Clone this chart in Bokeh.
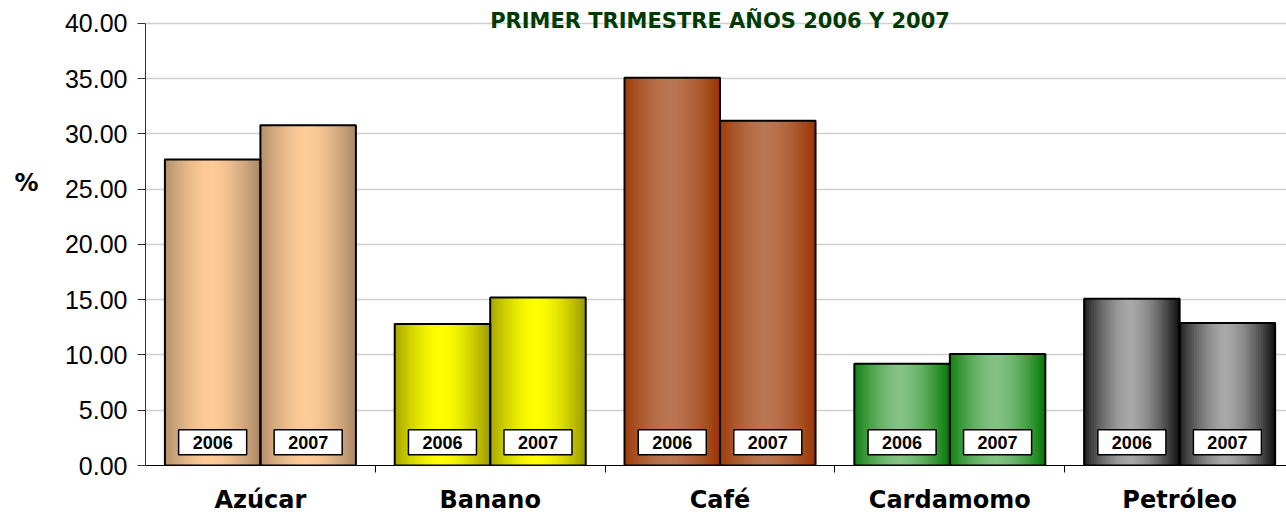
import numpy as np
from bokeh.plotting import figure
from bokeh.models import Range1d, FixedTicker, Label, PrintfTickFormatter, LinearAxis
from bokeh.core.properties import value
from bokeh.embed import file_html
from bokeh.resources import INLINE

# ---------------- data ----------------
categories = ["Azúcar", "Banano", "Café", "Cardamomo", "Petróleo"]
years = ["2006", "2007"]
values_2006 = [27.7, 12.8, 35.1, 9.2, 15.1]
values_2007 = [30.8, 15.2, 31.2, 10.1, 12.9]
y_ticks = [0, 5, 10, 15, 20, 25, 30, 35, 40]
title_text = "PRIMER TRIMESTRE AÑOS 2006 Y 2007"
y_label_text = "%"
edge_colors = [(168, 134, 100), (153, 153, 0), (153, 51, 0), (0, 120, 0), (12, 12, 12)]
center_colors = [(255, 204, 153), (255, 255, 0), (186, 118, 82), (132, 194, 132), (168, 168, 168)]

# ---------------- layout constants ----------------
BAR_W = 0.4156
N_STRIPS = 40
LABEL_Y = 2.1
Y_TOP = 42.08        # extra headroom above 40 for the title
TITLE_Y = 40.25
PCT_LIFT_LINES = 3   # empty lines below "%" lift it above the axis middle

p = figure(width=1286, height=516, output_backend="svg", toolbar_location=None,
           x_range=Range1d(0, 4.965), y_range=Range1d(0, Y_TOP),
           min_border_left=145, min_border_right=0, min_border_top=0, min_border_bottom=50)
p.outline_line_color = None
p.background_fill_color = "white"
p.border_fill_color = "white"

def profile(t):
    return float(np.clip(1 - (abs(t - 0.48) / 0.52) ** 1.6, 0, 1))

def mix(c0, c1, w):
    return "#%02x%02x%02x" % tuple(int(round(a + (b - a) * w)) for a, b in zip(c0, c1))

sl, sr, st, sc = [], [], [], []
ol, orr, ot = [], [], []
lx, lt = [], []
for i, cat in enumerate(categories):
    c = i + 0.5
    for j, (vals, yr) in enumerate(((values_2006, years[0]), (values_2007, years[1]))):
        left = c - BAR_W + j * BAR_W
        right = left + BAR_W
        top = vals[i]
        sw = BAR_W / N_STRIPS
        for k in range(N_STRIPS):
            t = (k + 0.5) / N_STRIPS
            sl.append(left + k * sw)
            sr.append(min(left + (k + 1.6) * sw, right))
            st.append(top)
            sc.append(mix(edge_colors[i], center_colors[i], profile(t)))
        ol.append(left); orr.append(right); ot.append(top)
        lx.append((left + right) / 2); lt.append(yr)

p.ygrid.ticker = FixedTicker(ticks=y_ticks)
p.ygrid.grid_line_color = "#d0d0d0"
p.ygrid.grid_line_width = 1.5
p.xgrid.visible = False

p.quad(left=sl, right=sr, top=st, bottom=0, fill_color=sc, line_color=None)
p.quad(left=ol, right=orr, top=ot, bottom=0, fill_color=None, line_color="black", line_width=2)

p.text(x=lx, y=[LABEL_Y] * len(lx), text=lt, text_font=value("Liberation Sans"),
       text_font_style="bold", text_font_size="18px", text_align="center",
       text_baseline="middle", text_color="black",
       background_fill_color="white", border_line_color="black", border_line_width=1.5,
       padding=(14, 6))

# y axis
p.yaxis.ticker = FixedTicker(ticks=y_ticks)
p.yaxis.bounds = (y_ticks[0], y_ticks[-1])
p.yaxis.formatter = PrintfTickFormatter(format="%.2f")
p.yaxis.major_label_text_font = "Liberation Sans"
p.yaxis.major_label_text_font_size = "25px"
p.yaxis.major_label_text_color = "black"
p.yaxis.major_tick_out = 8
p.yaxis.major_tick_in = 0
p.yaxis.minor_tick_out = 0
p.yaxis.minor_tick_in = 0
p.yaxis.major_label_standoff = 10
p.yaxis.axis_line_color = "#333333"
p.yaxis.major_tick_line_color = "#333333"

# extra invisible axis that only carries the "%" label
pct_axis = LinearAxis(ticker=FixedTicker(ticks=[]),
                      axis_line_color=None, major_tick_line_color=None, minor_tick_line_color=None,
                      major_tick_out=0, major_tick_in=0, minor_tick_out=0, minor_tick_in=0,
                      major_label_standoff=0,
                      axis_label=y_label_text + "\n" * PCT_LIFT_LINES,
                      axis_label_orientation="horizontal",
                      axis_label_standoff=23, axis_label_text_font="DejaVu Sans",
                      axis_label_text_font_style="bold", axis_label_text_font_size="24px",
                      axis_label_text_color="black")
p.add_layout(pct_axis, "left")

# x axis
centers = [i + 0.5 for i in range(len(categories))]
p.xaxis.ticker = FixedTicker(ticks=centers, minor_ticks=[i + 1 for i in range(len(categories))])
p.xaxis.major_label_overrides = {c: cat for c, cat in zip(centers, categories)}
p.xaxis.major_label_text_font = "DejaVu Sans"
p.xaxis.major_label_text_font_style = "bold"
p.xaxis.major_label_text_font_size = "24px"
p.xaxis.major_label_text_color = "black"
p.xaxis.major_tick_out = 0
p.xaxis.major_tick_in = 0
p.xaxis.minor_tick_out = 7
p.xaxis.minor_tick_in = 0
p.xaxis.minor_tick_line_color = "black"
p.xaxis.axis_line_color = "black"
p.xaxis.major_label_standoff = 13

p.add_layout(Label(x=2.5, y=TITLE_Y, text=title_text, text_align="center", text_baseline="alphabetic",
                   text_font="DejaVu Sans", text_font_style="bold",
                   text_font_size="21px", text_color="#003a00"))

open("out.html", "w").write(file_html(p, INLINE))
